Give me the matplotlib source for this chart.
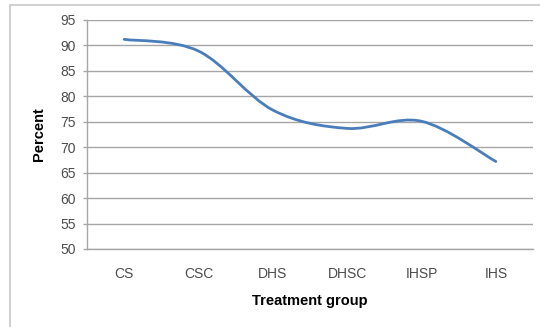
import matplotlib
matplotlib.use("Agg")
import matplotlib.pyplot as plt
from matplotlib.path import Path
from matplotlib.patches import PathPatch, Rectangle

plt.rcParams['font.family'] = ['Liberation Sans', 'DejaVu Sans']

# Percent by treatment group
groups = ["CS", "CSC", "DHS", "DHSC", "IHSP", "IHS"]
percent = [91.2, 88.9, 77.3, 73.7, 75.1, 67.2]
y_ticks = [50, 55, 60, 65, 70, 75, 80, 85, 90, 95]

LINE_BLUE = "#4A7EBB"
GRID_GRAY = "#A6A6A6"
TEXT_GRAY = "#4D4D4D"


def smooth_path(xs, ys):
    """Cubic Bezier path through every point (spreadsheet-style smoothed line)."""
    pts = list(zip(xs, ys))
    n = len(pts)
    verts = [pts[0]]
    codes = [Path.MOVETO]
    for i in range(n - 1):
        p0 = pts[i - 1] if i > 0 else pts[i]
        p1 = pts[i]
        p2 = pts[i + 1]
        p3 = pts[i + 2] if i + 2 < n else pts[i + 1]
        c1 = (p1[0] + (p2[0] - p0[0]) / 6.0, p1[1] + (p2[1] - p0[1]) / 6.0)
        c2 = (p2[0] - (p3[0] - p1[0]) / 6.0, p2[1] - (p3[1] - p1[1]) / 6.0)
        verts += [c1, c2, p2]
        codes += [Path.CURVE4, Path.CURVE4, Path.CURVE4]
    return Path(verts, codes)


fig = plt.figure(figsize=(5.40, 3.27), dpi=100)
fig.patch.set_facecolor("white")

# light frame around the chart area
fig.patches.append(Rectangle((10 / 540, -0.02), 1.0, 1 - 5 / 327 + 0.02,
                             transform=fig.transFigure, fill=False,
                             edgecolor="#C8C8C8", linewidth=1.2))

ax = fig.add_axes([87 / 540, 1 - 249 / 327, 446 / 540, 229 / 327])

x = list(range(len(groups)))
patch = PathPatch(smooth_path(x, percent), facecolor="none",
                  edgecolor=LINE_BLUE, linewidth=2.0, capstyle="round",
                  zorder=3)
ax.add_patch(patch)

ax.set_xlim(-0.5, len(groups) - 0.5)
ax.set_ylim(50, 95)
ax.set_yticks(y_ticks)
ax.set_xticks(x)
ax.set_xticklabels(groups)

ax.yaxis.grid(True, color=GRID_GRAY, linewidth=1.0)
ax.set_axisbelow(True)

for side in ("top", "right"):
    ax.spines[side].set_visible(False)
ax.spines["left"].set_color(GRID_GRAY)
ax.spines["bottom"].set_color(GRID_GRAY)
ax.spines["left"].set_linewidth(1.0)
ax.spines["bottom"].set_linewidth(1.0)

ax.tick_params(axis="y", length=3, width=1.0, color=GRID_GRAY, pad=5,
               labelsize=10, labelcolor=TEXT_GRAY)
ax.tick_params(axis="x", length=0, pad=13, labelsize=10,
               labelcolor=TEXT_GRAY)

ax.set_xlabel("Treatment group", fontsize=10.5, fontweight="bold",
              color="black", labelpad=9)
ax.set_ylabel("Percent", fontsize=10.5, fontweight="bold", color="black",
              labelpad=10)

fig.savefig("out.png", dpi=100)
